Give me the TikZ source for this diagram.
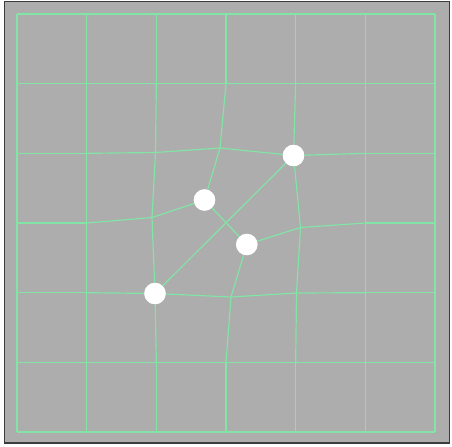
\documentclass[tikz,border=0pt]{standalone}
\usepackage{tikz}
\usetikzlibrary{positioning,calc}
\usepackage{xcolor}
\definecolor{meshgreen}{RGB}{130,228,165}
\definecolor{panelgray}{RGB}{173,173,173}
\definecolor{framegray}{RGB}{60,60,60}

\begin{document}
\begin{tikzpicture}[
    x=0.03cm, y=-0.03cm,
    panel/.style={fill=panelgray, draw=framegray, line width=0.9pt},
    edge/.style={draw=meshgreen, line width=1pt},
    handle/.style={circle, fill=white, draw=none, inner sep=0pt,
      minimum size=0.64cm}
  ]
    \useasboundingbox[fill=white] (0,0) rectangle (452,446);
    \draw[panel] (4.5,1.5) rectangle (449.5,443);

    % regular grid points
    \foreach \i in {0,...,6}{
      \foreach \j in {0,...,6}{
        \coordinate (v-\i-\j) at ({17+69.67*\i},{14+69.67*\j});
      }
    }

    % moved grid points
    \coordinate (v-2-2) at (155.5,152.5);
    \coordinate (v-3-2) at (220,148);
    \coordinate (v-2-3) at (152,217.5);
    \coordinate (v-4-3) at (300.5,227.5);
    \coordinate (v-3-4) at (231,297);
    \coordinate (v-4-4) at (296.5,293);

    \node[handle] (topright) at (293.5,155.5) {};
    \node[handle] (botleft)  at (155,293.5) {};
    \node[handle] (upper)    at (204.5,200) {};
    \node[handle] (lower)    at (246.8,244.5) {};
    \coordinate (v-4-2) at (topright.center);
    \coordinate (v-2-4) at (botleft.center);

    % grid lines, skipping the split point in the middle
    \foreach \a in {0,...,6}{
      \foreach \b [evaluate=\b as \c using int(\b+1)] in {0,...,5}{
        \pgfmathtruncatemacro{\skip}{(\a==3)&&(\b>1)&&(\b<4)}
        \ifnum\skip=0
          \draw[edge] (v-\b-\a) -- (v-\c-\a);
          \draw[edge] (v-\a-\b) -- (v-\a-\c);
        \fi
      }
    }

    \draw[edge] (v-2-3) -- (upper.center);
    \draw[edge] (v-3-2) -- (upper.center);
    \draw[edge] (upper.center) -- (lower.center);
    \draw[edge] (lower.center) -- (v-4-3);
    \draw[edge] (lower.center) -- (v-3-4);
    \draw[edge] (botleft.center) -- (topright.center);

    \foreach \n in {topright,botleft,upper,lower}
      \node[handle] at (\n) {};
  \end{tikzpicture}
\end{document}
